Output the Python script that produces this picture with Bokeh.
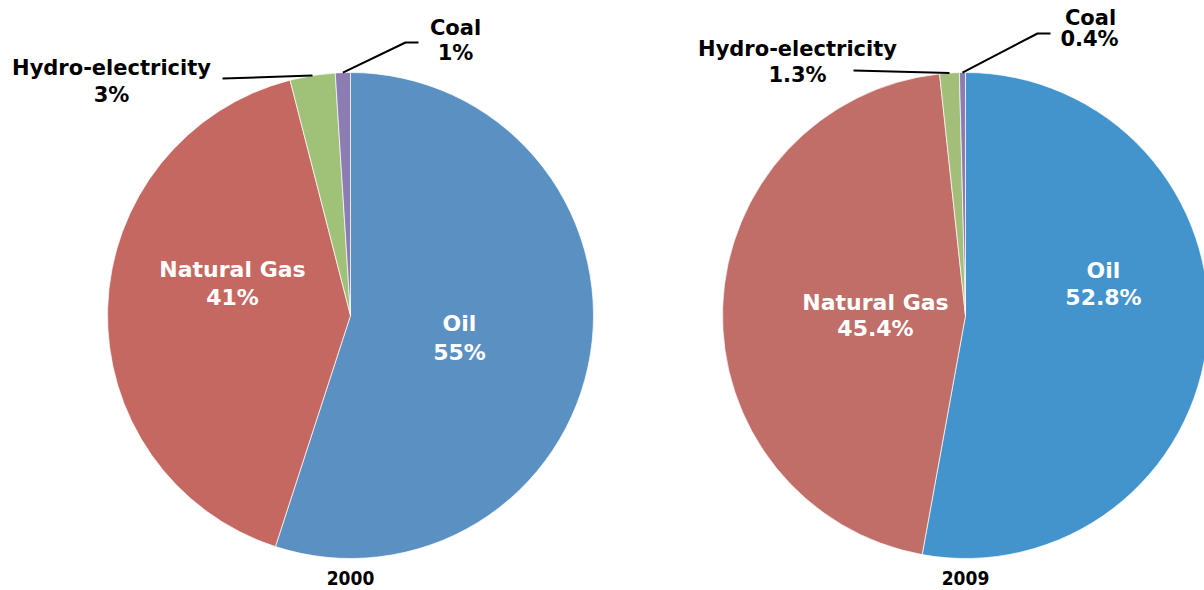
import math
from bokeh.plotting import figure
from bokeh.models import Range1d, ColumnDataSource
from bokeh.core.properties import value
from bokeh.embed import file_html
from bokeh.resources import INLINE

# ---------------- data ----------------
sources = ["Oil", "Natural Gas", "Hydro-electricity", "Coal"]
years = ["2000", "2009"]
share_2000 = [55, 41, 3, 1]
share_2009 = [52.8, 45.4, 1.3, 0.4]
pct_labels_2000 = ["55%", "41%", "3%", "1%"]
pct_labels_2009 = ["52.8%", "45.4%", "1.3%", "0.4%"]

# ---------------- styles / layout ----------------
colors_2000 = ["#5B90C3", "#C66862", "#A0C278", "#8B7DB3"]
colors_2009 = ["#4393CC", "#C06E67", "#A2BE79", "#8B7DB3"]

W, H = 1204, 590
PAGE_H = 590


def sy(y):  # screen y -> data y
    return PAGE_H - y


R = 243
centers = [(350, sy(315)), (965, sy(315))]

# label anchors (screen coords): name position, percent position
label_pos = [
    {  # 2000
        "Oil": ((459, 323), (459, 352)),
        "Natural Gas": ((232, 269), (232, 297)),
        "Hydro-electricity": ((111, 67), (111, 94)),
        "Coal": ((455, 27), (455, 52)),
    },
    {  # 2009
        "Oil": ((1103, 270), (1103, 297)),
        "Natural Gas": ((875, 302), (875, 328)),
        "Hydro-electricity": ((797, 48), (797, 74)),
        "Coal": ((1090, 17), (1089, 38)),
    },
]
# leader line anchor points away from the pie (screen coords)
leader_from = [
    {"Hydro-electricity": [(222, 78)], "Coal": [(418, 42), (405, 42)]},
    {"Hydro-electricity": [(853, 70)], "Coal": [(1050, 33), (1037, 33)]},
]
year_pos = [(350, 577), (965, 577)]

p = figure(width=W, height=H, output_backend="svg", toolbar_location=None,
           x_range=Range1d(0, W), y_range=Range1d(PAGE_H - H, PAGE_H),
           min_border=0, min_border_left=0, min_border_right=0,
           min_border_top=0, min_border_bottom=0)
p.axis.visible = False
p.grid.visible = False
p.outline_line_color = None
p.background_fill_color = "white"
p.border_fill_color = "white"

label_font = value("DejaVu Sans")
year_font = value("DejaVu Sans Condensed")

for i, (shares, colors, pcts) in enumerate([(share_2000, colors_2000, pct_labels_2000),
                                            (share_2009, colors_2009, pct_labels_2009)]):
    cx, cy = centers[i]
    total = sum(shares)
    starts, ends, mids = [], [], []
    cum = 0.0
    for v in shares:
        a0 = math.pi / 2 - 2 * math.pi * cum / total
        cum += v
        a1 = math.pi / 2 - 2 * math.pi * cum / total
        starts.append(a0)
        ends.append(a1)
        mids.append((a0 + a1) / 2)
    src = ColumnDataSource(dict(start=starts, end=ends, color=colors))
    p.wedge(x=cx, y=cy, radius=R, start_angle="start", end_angle="end",
            direction="clock", fill_color="color", line_color="white",
            line_width=0.7, source=src)

    # leader lines
    for name, pts in leader_from[i].items():
        k = sources.index(name)
        ex = cx + R * math.cos(mids[k])
        ey = cy + R * math.sin(mids[k])
        xs = [pt[0] for pt in pts] + [ex]
        ys = [sy(pt[1]) for pt in pts] + [ey]
        p.line(xs, ys, line_color="black", line_width=2)

    # labels
    for k, name in enumerate(sources):
        (nx, ny), (px_, py_) = label_pos[i][name]
        inside = name in ("Oil", "Natural Gas")
        col = "white" if inside else "black"
        size = "22px" if inside else "21px"
        p.text(x=[nx, px_], y=[sy(ny), sy(py_)], text=[name, pcts[k]],
               text_align="center", text_baseline="middle",
               text_font=label_font, text_font_style="bold",
               text_font_size=size, text_color=col)

    yx, yy = year_pos[i]
    p.text(x=[yx], y=[sy(yy)], text=[years[i]], text_align="center",
           text_baseline="middle", text_font=year_font, text_font_style="bold",
           text_font_size="19px", text_color="black")

open("out.html", "w").write(file_html(p, INLINE))
